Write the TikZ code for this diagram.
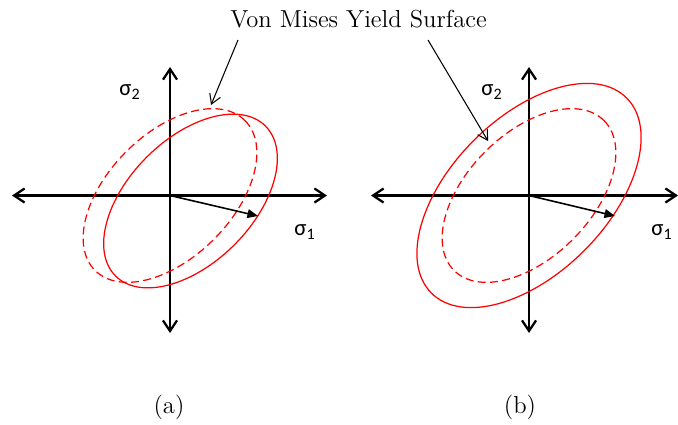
\documentclass[tikz,border=0pt]{standalone}
\usepackage{fontspec}
\newfontfamily\sigmafont{Carlito}
\usetikzlibrary{arrows.meta}

\begin{document}
\begin{tikzpicture}[
    x=0.02cm, y=0.02cm,
    axis/.style={{Straight Barb[length=6pt,width=8pt]}-{Straight Barb[length=6pt,width=8pt]}, line width=1.3pt},
    load/.style={-{Triangle[length=6pt,width=5pt]}, line width=0.9pt},
    yield/.style={red, line width=0.7pt},
    initial/.style={yield, dash pattern=on 4.5pt off 2.5pt},
    pointer/.style={-{Straight Barb[length=5.5pt,width=6.5pt]}, line width=0.6pt},
    sig/.style={font=\sigmafont\fontsize{13}{15}\selectfont},
    lbl/.style={font=\fontsize{14}{16}\selectfont}
]
    \useasboundingbox (0,0) rectangle (678,424);

    % (a) shifted surface
    \begin{scope}[shift={(170,228.5)}]
        \coordinate (oa) at (0,0);
        \draw[axis] (-158,0) -- (157,0);
        \draw[axis] (0,-137.5) -- (0,128.5);
        \draw[initial] (0,0) ellipse [x radius=106, y radius=62, rotate=45];
        \draw[yield] (20.5,-5.5) ellipse [x radius=106, y radius=62, rotate=45];
        \coordinate (sa) at (88,-20.5);
        \draw[load] (oa) -- (sa);
        \node[sig] (s2a) at (-40,103.5) {σ\textsubscript{2}};
        \node[sig] (s1a) at (135,-36.5) {σ\textsubscript{1}};
        \coordinate (tipa) at (41,90.5);
    \end{scope}

    % (b) expanded surface
    \begin{scope}[shift={(529,228.5)}]
        \coordinate (ob) at (0,0);
        \draw[axis] (-158,0) -- (149,0);
        \draw[axis] (0,-137.5) -- (0,128.5);
        \draw[initial] (0,0) ellipse [x radius=106, y radius=62, rotate=45];
        \draw[yield] (0,0) ellipse [x radius=138, y radius=78, rotate=45];
        \coordinate (sb) at (86,-20.5);
        \draw[load] (ob) -- (sb);
        \node[sig] (s2b) at (-37,103.5) {σ\textsubscript{2}};
        \node[sig] (s1b) at (133,-36.5) {σ\textsubscript{1}};
        \coordinate (tipb) at (-41,54.5);
    \end{scope}

    \node[lbl] (title) at (358.5,405) {Von Mises Yield Surface};
    \coordinate (froma) at (238,384);
    \coordinate (fromb) at (428,384);
    \draw[pointer] (froma) -- (tipa);
    \draw[pointer] (fromb) -- (tipb);

    \node[lbl] (capa) at (169,17) {(a)};
    \node[lbl] (capb) at (520,17) {(b)};
\end{tikzpicture}
\end{document}
